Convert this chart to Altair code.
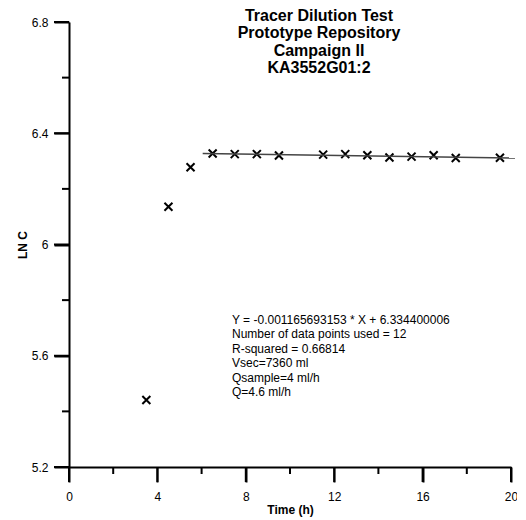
import altair as alt
import pandas as pd

# Measured data
time_h = [3.5, 4.5, 5.5, 6.5, 7.5, 8.5, 9.5, 11.5, 12.5, 13.5, 14.5, 15.5, 16.5, 17.5, 19.5]
ln_c = [5.441, 6.136, 6.278, 6.327, 6.325, 6.325, 6.320, 6.323, 6.325, 6.321, 6.313, 6.316, 6.321, 6.311, 6.312]

# Regression line
slope = -0.001165693153
intercept = 6.334400006
fit_x = [6.05, 20.18]

x_major = [0, 4, 8, 12, 16, 20]
x_minor = [2, 6, 10, 14, 18]
y_major = [5.2, 5.6, 6.0, 6.4, 6.8]
y_minor = [5.4, 5.8, 6.2, 6.6]

title_lines = ["Tracer Dilution Test", "Prototype Repository", "Campaign II", "KA3552G01:2"]
note_lines = [
    "Y = -0.001165693153 * X + 6.334400006",
    "Number of data points used = 12",
    "R-squared = 0.66814",
    "Vsec=7360 ml",
    "Qsample=4 ml/h",
    "Q=4.6 ml/h",
]

W, H = 442, 445
LW = 2
pts = pd.DataFrame({"t": time_h, "y": ln_c})
fit = pd.DataFrame({"t": fit_x, "y": [slope * v + intercept for v in fit_x]})

FONT = "Liberation Sans"
xscale = alt.Scale(domain=[0, 20], nice=False, zero=False)
yscale = alt.Scale(domain=[5.2, 6.8], nice=False, zero=False)

x_axis = alt.Axis(values=x_major, tickSize=15, labelPadding=9, orient="bottom",
                  title="Time (h)", titleY=42, titleBaseline="middle")
y_axis = alt.Axis(values=y_major, tickSize=15, labelPadding=6, orient="left",
                  labelExpr="format(datum.value, '~g')",
                  title="LN C", titleX=-47, titleY=H / 2, titleAngle=-90,
                  titleBaseline="middle", titleAlign="center")

points = alt.Chart(pts).mark_point(
    shape="M-1,-1L1,1M-1,1L1,-1", size=64, filled=False, stroke="black", strokeWidth=2, opacity=1
).encode(
    x=alt.X("t:Q", scale=xscale, axis=x_axis),
    y=alt.Y("y:Q", scale=yscale, axis=y_axis),
)

line = alt.Chart(fit).mark_line(color="#444444", strokeWidth=1.5, clip=False).encode(
    x=alt.X("t:Q", scale=xscale),
    y=alt.Y("y:Q", scale=yscale),
)

def xticks(vals, length):
    return alt.Chart(pd.DataFrame({"t": vals})).mark_rule(color="black", strokeWidth=LW).encode(
        x=alt.X("t:Q", scale=xscale), y=alt.value(H), y2=alt.value(H + length)
    )

def yticks(vals, length):
    return alt.Chart(pd.DataFrame({"y": vals})).mark_rule(color="black", strokeWidth=LW).encode(
        y=alt.Y("y:Q", scale=yscale), x=alt.value(0), x2=alt.value(-length)
    )

title = alt.Chart(pd.DataFrame({"a": [0]})).mark_text(
    font=FONT, fontSize=16, fontWeight="bold", align="center", baseline="alphabetic",
    lineHeight=17.5, color="black"
).encode(x=alt.value(250), y=alt.value(-1.5), text=alt.value(title_lines))

note = alt.Chart(pd.DataFrame({"a": [0]})).mark_text(
    font=FONT, fontSize=12, align="left", baseline="alphabetic", lineHeight=14.5, color="black"
).encode(x=alt.value(163), y=alt.value(301.5), text=alt.value(note_lines))

chart = alt.layer(
    points, line,
    xticks(x_major, 15), xticks(x_minor, 7), yticks(y_major, 15), yticks(y_minor, 7),
    title, note,
).properties(
    width=W, height=H,
    padding={"left": 61, "top": 14, "right": 6, "bottom": 50},
    autosize=alt.AutoSizeParams(type="none"),
).configure_view(strokeWidth=0).configure_axis(
    grid=False, ticks=True, tickColor="#000000", tickWidth=LW,
    domain=True, domainColor="#000000", domainWidth=LW,
    labelFont=FONT, labelFontSize=12, labelColor="#000000", labelFlush=False, labelOverlap=False,
    titleFont=FONT, titleFontSize=12, titleFontWeight="bold", titleColor="#000000",
)

chart.save("out.html", embed_options={"renderer": "svg", "actions": False})
